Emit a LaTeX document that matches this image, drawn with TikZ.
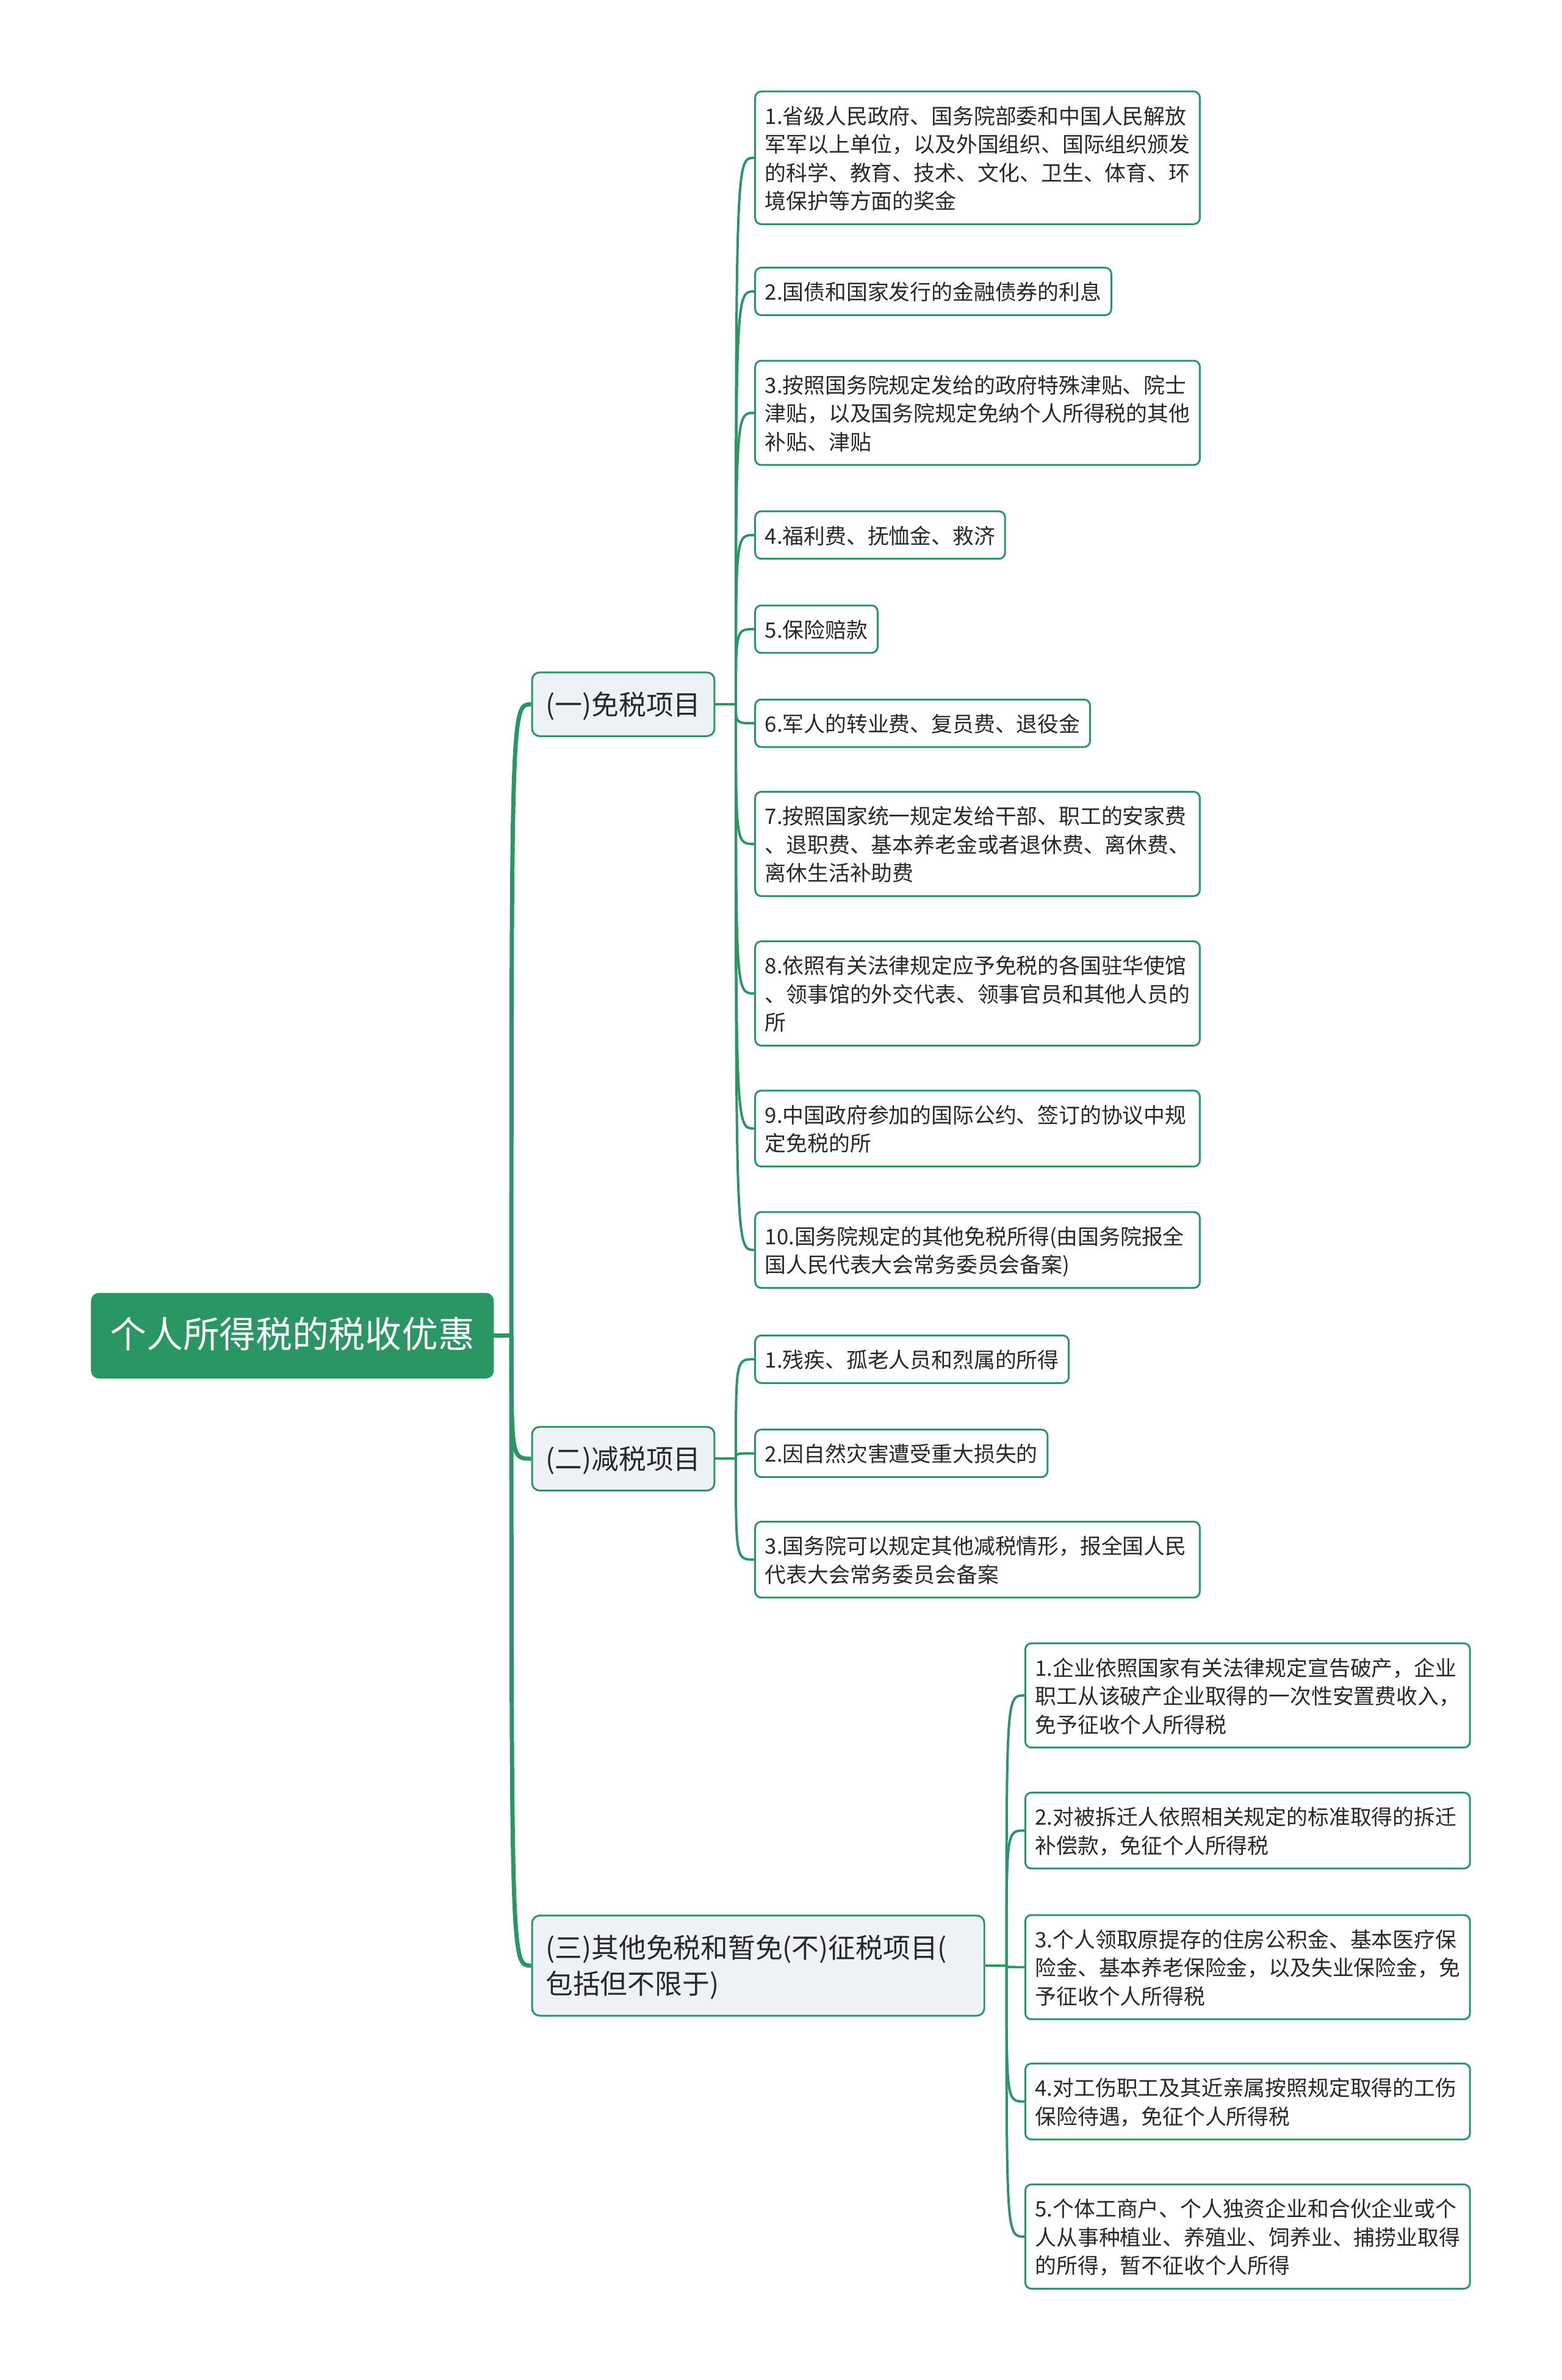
\documentclass[tikz,border=0pt]{standalone}
\usepackage{fontspec}
\setmainfont{Noto Sans CJK SC}
\usepackage{xcolor}
\usepackage{tikz}
\usetikzlibrary{calc}
\definecolor{mapgreen}{RGB}{42,150,100}
\definecolor{grpbg}{RGB}{238,241,245}
\definecolor{inktext}{RGB}{40,40,40}
% struts that push the text a little down in its box
\newcommand\upstrut{\vrule height\dimexpr0.7\baselineskip+2pt\relax depth 0pt width 0pt}
\newcommand\downstrut{\vrule height 0pt depth\dimexpr0.3\baselineskip-2pt\relax width 0pt}

\begin{document}
\begin{tikzpicture}[x=1pt,y=-1pt,
  rootbox/.style={fill=mapgreen,draw=mapgreen,rounded corners=5pt,text=white,
    font=\fontsize{24pt}{30pt}\selectfont,inner xsep=12.5pt,inner ysep=13pt,
    execute at begin node=\upstrut,execute at end node=\downstrut,anchor=west},
  grp/.style={draw=mapgreen,line width=1.2pt,fill=grpbg,rounded corners=5pt,text=inktext,
    font=\fontsize{18pt}{24pt}\selectfont,inner xsep=9pt,inner ysep=9pt,align=left,
    execute at begin node=\upstrut,execute at end node=\downstrut,anchor=west},
  leaf/.style={draw=mapgreen,line width=1.2pt,fill=white,rounded corners=4pt,text=inktext,
    font=\fontsize{14pt}{18.7pt}\selectfont,inner xsep=6.5pt,inner ysep=6.3pt,align=left,
    execute at begin node=\upstrut,execute at end node=\downstrut,anchor=west},
  wide/.style={leaf,text width=280pt},
  trunk/.style={draw=mapgreen,line width=2.8pt},
  twig/.style={draw=mapgreen,line width=1.6pt}]
\useasboundingbox (0,0) rectangle (1029,1568);

% root and the three groups
\node[rootbox] (root) at (60,880) {个人所得税的税收优惠};
\node[grp] (b1) at (350,464) {(一)免税项目};
\node[grp] (b2) at (350,961) {(二)减税项目};
\node[grp,text width=280pt] (b3) at (350,1295) {(三)其他免税和暂免(不)征税项目(\\包括但不限于)};

% (一) 免税项目
\node[wide] (a1) at (497,104) {1.省级人民政府、国务院部委和中国人民解放\\军军以上单位，以及外国组织、国际组织颁发\\的科学、教育、技术、文化、卫生、体育、环\\境保护等方面的奖金};
\node[leaf] (a2) at (497,192) {2.国债和国家发行的金融债券的利息};
\node[wide] (a3) at (497,272) {3.按照国务院规定发给的政府特殊津贴、院士\\津贴，以及国务院规定免纳个人所得税的其他\\补贴、津贴};
\node[leaf] (a4) at (497,352.5) {4.福利费、抚恤金、救济};
\node[leaf] (a5) at (497,414.5) {5.保险赔款};
\node[leaf] (a6) at (497,476.5) {6.军人的转业费、复员费、退役金};
\node[wide] (a7) at (497,556) {7.按照国家统一规定发给干部、职工的安家费\\、退职费、基本养老金或者退休费、离休费、\\离休生活补助费};
\node[wide] (a8) at (497,654.5) {8.依照有关法律规定应予免税的各国驻华使馆\\、领事馆的外交代表、领事官员和其他人员的\\所};
\node[wide] (a9) at (497,743.5) {9.中国政府参加的国际公约、签订的协议中规\\定免税的所};
\node[wide] (a10) at (497,823.5) {10.国务院规定的其他免税所得(由国务院报全\\国人民代表大会常务委员会备案)};

% (二) 减税项目
\node[leaf] (c1) at (497,895.5) {1.残疾、孤老人员和烈属的所得};
\node[leaf] (c2) at (497,957.5) {2.因自然灾害遭受重大损失的};
\node[wide] (c3) at (497,1027.5) {3.国务院可以规定其他减税情形，报全国人民\\代表大会常务委员会备案};

% (三) 其他免税和暂免(不)征税项目
\node[wide] (d1) at (675,1117) {1.企业依照国家有关法律规定宣告破产，企业\\职工从该破产企业取得的一次性安置费收入，\\免予征收个人所得税};
\node[wide] (d2) at (675,1206) {2.对被拆迁人依照相关规定的标准取得的拆迁\\补偿款，免征个人所得税};
\node[wide] (d3) at (675,1296) {3.个人领取原提存的住房公积金、基本医疗保\\险金、基本养老保险金，以及失业保险金，免\\予征收个人所得税};
\node[wide] (d4) at (675,1384.5) {4.对工伤职工及其近亲属按照规定取得的工伤\\保险待遇，免征个人所得税};
\node[wide] (d5) at (675,1473.5) {5.个体工商户、个人独资企业和合伙企业或个\\人从事种植业、养殖业、饲养业、捕捞业取得\\的所得，暂不征收个人所得};

% branch points
\coordinate (j0) at (337,880);
\coordinate (j1) at ($(b1.east)+(13.5,0)$);
\coordinate (j2) at ($(b2.east)+(13.5,0)$);
\coordinate (j3) at ($(b3.east)+(14,0)$);

\draw[trunk] (root.east) -- (j0);
\foreach \i in {1,2,3}
  \draw[trunk] (j0) .. controls (j0 |- b\i.west) .. (b\i.west);

\draw[twig] (b1.east) -- (j1);
\foreach \i in {1,...,10}
  \draw[twig] (j1) .. controls (j1 |- a\i.west) .. (a\i.west);

\draw[twig] (b2.east) -- (j2);
\foreach \i in {1,2,3}
  \draw[twig] (j2) .. controls (j2 |- c\i.west) .. (c\i.west);

\draw[twig] (b3.east) -- (j3);
\foreach \i in {1,...,5}
  \draw[twig] (j3) .. controls (j3 |- d\i.west) .. (d\i.west);
\end{tikzpicture}
\end{document}
